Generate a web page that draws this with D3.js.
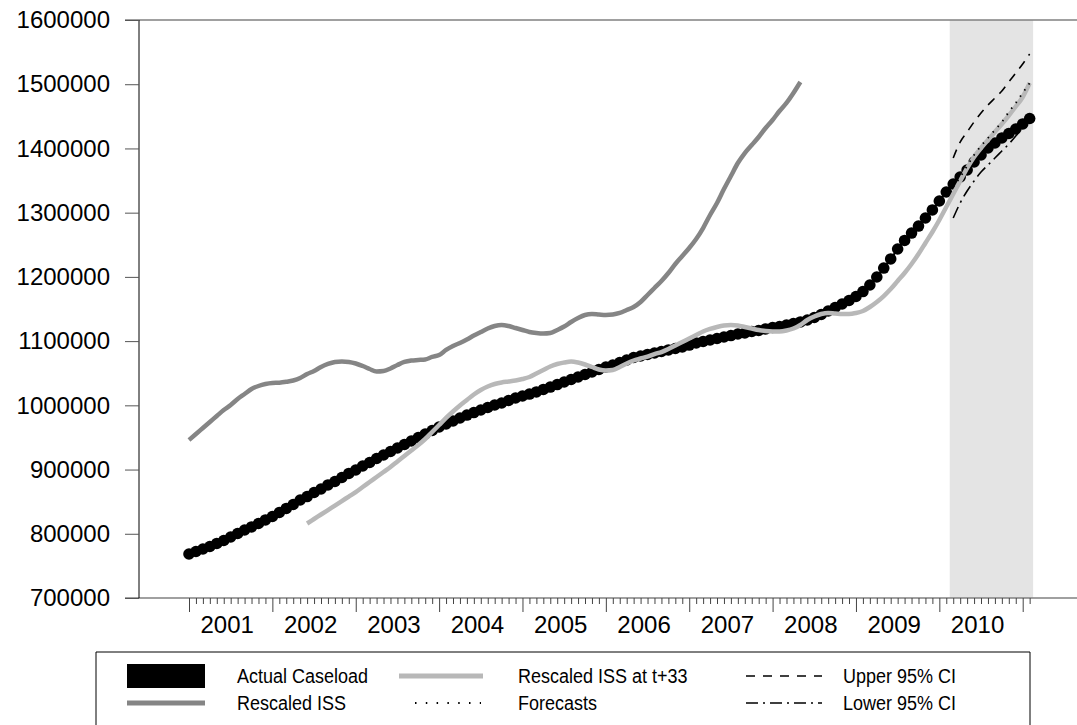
<!DOCTYPE html>
<html><head><meta charset="utf-8">
<script src="https://cdn.jsdelivr.net/npm/d3@7"></script>
<style>
body{margin:0;background:#fff}
svg{display:block}
text{font-family:"Liberation Sans",Arial,sans-serif;fill:#000}
</style>
</head><body>
<svg id="c" width="1077" height="725"></svg>
<script>
// ---- data (monthly, index 0 = Jan 2001) ----
const years = ["2001","2002","2003","2004","2005","2006","2007","2008","2009","2010"];
const yTicks = [700000,800000,900000,1000000,1100000,1200000,1300000,1400000,1500000,1600000];

const actual = [
768500,772400,776300,780200,784900,789500,795000,800400,805900,810600,816000,821500,
826900,833100,839400,845600,852600,858000,864300,869700,876000,881400,887600,893900,
899300,905500,911000,917200,922700,928100,933600,939000,944500,949900,955400,960800,
966300,970900,975600,980300,984900,988800,992700,996600,1000500,1003600,1007500,1011400,
1014500,1017600,1020800,1024700,1028500,1032400,1036300,1040200,1044100,1048000,1051900,1055800,
1059700,1062800,1066700,1070600,1074500,1076800,1079200,1081500,1083800,1086200,1088500,1090800,
1093900,1097100,1099400,1101700,1104100,1106400,1108700,1111100,1112600,1115000,1116500,1118900,
1121200,1122700,1125100,1127400,1129800,1132900,1136800,1141400,1146900,1152300,1157800,1163200,
1169500,1177200,1187400,1199800,1213800,1227900,1243400,1256700,1268300,1279200,1291700,1304200,
1318200,1332200,1344600,1355500,1366400,1378900,1389800,1400700,1408500,1416300,1423300,1430300,
1438100,1446600];

const issStart = 0;
const iss = [
946000,955400,964700,974000,983400,992700,1000500,1009900,1017600,1025400,1030100,1033200,
1034800,1035200,1036600,1038700,1042600,1048800,1053500,1059700,1064400,1067500,1068300,1067500,
1065100,1061200,1056600,1052700,1053500,1057400,1062800,1067500,1069800,1070600,1071400,1075300,
1078400,1086200,1092400,1097100,1102500,1108700,1114200,1119600,1123500,1125100,1123500,1120400,
1117300,1114200,1112600,1111800,1112600,1117300,1122700,1129800,1136000,1140700,1142200,1141400,
1140700,1141400,1143800,1148400,1153100,1160900,1171800,1182700,1193600,1206100,1220100,1232500,
1245000,1259000,1276100,1296400,1315100,1336800,1357100,1377300,1392900,1405400,1417800,1431800,
1444300,1458300,1470800,1486300,1503500];

const issLagStart = 17;
const issLag = [
816000,823000,830000,837000,844000,851000,858000,865000,872800,880600,888400,896200,
904000,912500,921100,929700,938200,947600,958500,969400,980300,990400,999700,1008300,
1016900,1023900,1029300,1033200,1035600,1037100,1038700,1041000,1044100,1049600,1055000,1060500,
1064400,1066700,1068300,1066700,1063600,1059700,1055800,1054200,1055000,1059700,1065100,1069800,
1072900,1076000,1079900,1083000,1087700,1093200,1098600,1104100,1109500,1115000,1118900,1122000,
1124300,1125100,1124300,1122000,1119600,1117300,1115700,1115000,1115000,1116500,1119600,1125100,
1132900,1138300,1142200,1143800,1143000,1142200,1142200,1143800,1146900,1153100,1160900,1170200,
1181100,1193600,1206100,1220100,1235600,1252800,1269900,1288600,1308800,1329100,1349300,1369500,
1386700,1400700,1413100,1425600,1438100,1451300,1465300,1480100,1501900];

const fcStart = 110;
const forecast = [1340000,1355500,1372700,1389800,1403800,1416300,1428700,1441200,1456700,1470800,1486300,1501900];
const upper95  = [1385100,1410000,1425600,1441200,1455200,1467600,1478500,1489400,1503500,1517500,1531500,1547100];
const lower95  = [1291700,1315100,1333700,1349300,1363300,1374200,1385100,1396000,1406900,1419400,1433400,1447400];
const shadeRange = [109.5, 121.5];

// ---- layout ----
const svg = d3.select("#c");
const X0 = 139, YT = 20, YB = 598;
const x = d3.scaleLinear().domain([0,120]).range([189, 1022.7]);
const y = d3.scaleLinear().domain([700000,1600000]).range([YB, YT]);

// shade
svg.append("rect").attr("x", x(shadeRange[0])).attr("y", YT)
  .attr("width", x(shadeRange[1]) - x(shadeRange[0])).attr("height", YB - YT)
  .attr("fill", "#e4e4e4");

// frame lines
svg.append("line").attr("x1",125).attr("x2",1077).attr("y1",YT).attr("y2",YT).attr("stroke","#808080").attr("stroke-width",1.5);
svg.append("line").attr("x1",125).attr("x2",1077).attr("y1",YB).attr("y2",YB).attr("stroke","#808080").attr("stroke-width",1.5);

// y axis
const yAxis = svg.append("g").attr("transform",`translate(${X0},0)`)
  .call(d3.axisLeft(y).tickValues(yTicks).tickSize(14).tickPadding(15).tickFormat(d3.format("d")));
yAxis.select(".domain").attr("stroke","#000").attr("stroke-width",1).attr("d",`M0,${YT}V${YB}`);
yAxis.selectAll(".tick line").attr("stroke","#555");
yAxis.selectAll("text").attr("font-size",24).attr("font-family","Liberation Sans, Arial, sans-serif").attr("fill","#000");

// x axis minor & major ticks
const minor = svg.append("g").attr("transform",`translate(0,${YB})`)
  .call(d3.axisBottom(x).tickValues(d3.range(0,122).filter(i=>i%12!==0)).tickSize(6).tickFormat(""));
minor.select(".domain").remove();
minor.selectAll(".tick line").attr("stroke","#444");
const major = svg.append("g").attr("transform",`translate(0,${YB})`)
  .call(d3.axisBottom(x).tickValues(d3.range(0,121,12)).tickSize(14).tickFormat(""));
major.select(".domain").remove();
major.selectAll(".tick line").attr("stroke","#444");

svg.append("g").selectAll("text").data(years).join("text")
  .attr("x",(d,i)=>x(i*12+5.5)).attr("y",633)
  .attr("text-anchor","middle").attr("font-size",24).text(d=>d);

// series
const line = (start) => d3.line().x((d,i)=>x(i+start)).y(d=>y(d)).curve(d3.curveMonotoneX);

const plot = svg.append("g");
plot.append("path").datum(actual).attr("d", line(0)).attr("fill","none").attr("stroke","#000").attr("stroke-width",2);
plot.append("g").selectAll("circle").data(actual).join("circle")
  .attr("cx",(d,i)=>x(i)).attr("cy",d=>y(d)).attr("r",5.8).attr("fill","#000");

plot.append("path").datum(iss).attr("d", line(issStart)).attr("fill","none").attr("stroke","#858585").attr("stroke-width",4.5);
plot.append("path").datum(issLag).attr("d", line(issLagStart)).attr("fill","none").attr("stroke","#b8b8b8").attr("stroke-width",4.5);

plot.append("path").datum(forecast).attr("d", line(fcStart)).attr("fill","none").attr("stroke","#000")
  .attr("stroke-width",1.8).attr("stroke-dasharray","1.5,6");
plot.append("path").datum(upper95).attr("d", line(fcStart)).attr("fill","none").attr("stroke","#000")
  .attr("stroke-width",1.6).attr("stroke-dasharray","9,7");
plot.append("path").datum(lower95).attr("d", line(fcStart)).attr("fill","none").attr("stroke","#000")
  .attr("stroke-width",1.6).attr("stroke-dasharray","12,5,2,5");

// legend
const lg = svg.append("g");
lg.append("path").attr("d","M96,726V652H1030V726").attr("fill","none").attr("stroke","#000").attr("stroke-width",1);
const r1 = 676, r2 = 703;
lg.append("rect").attr("x",127).attr("y",r1-12).attr("width",78).attr("height",24).attr("fill","#000");
lg.append("line").attr("x1",127).attr("x2",205).attr("y1",r2).attr("y2",r2).attr("stroke","#858585").attr("stroke-width",5);
lg.append("line").attr("x1",399).attr("x2",483).attr("y1",r1).attr("y2",r1).attr("stroke","#b8b8b8").attr("stroke-width",5);
lg.append("line").attr("x1",415).attr("x2",481).attr("y1",r2).attr("y2",r2).attr("stroke","#000").attr("stroke-width",1.8).attr("stroke-dasharray","1.5,9.3");
lg.append("line").attr("x1",746).attr("x2",822).attr("y1",r1).attr("y2",r1).attr("stroke","#000").attr("stroke-width",1.6).attr("stroke-dasharray","9,8");
lg.append("line").attr("x1",746).attr("x2",822).attr("y1",r2).attr("y2",r2).attr("stroke","#000").attr("stroke-width",1.6).attr("stroke-dasharray","12,5,2,5");
const labels = [
  {t:"Actual Caseload",x:237,y:r1},{t:"Rescaled ISS",x:237,y:r2},
  {t:"Rescaled ISS at t+33",x:518,y:r1},{t:"Forecasts",x:518,y:r2},
  {t:"Upper 95% CI",x:843,y:r1},{t:"Lower 95% CI",x:843,y:r2}];
lg.selectAll("text").data(labels).join("text")
  .attr("transform",d=>`translate(${d.x},${d.y+7}) scale(1,1.1)`)
  .attr("font-size",18).text(d=>d.t);
</script>
</body></html>
